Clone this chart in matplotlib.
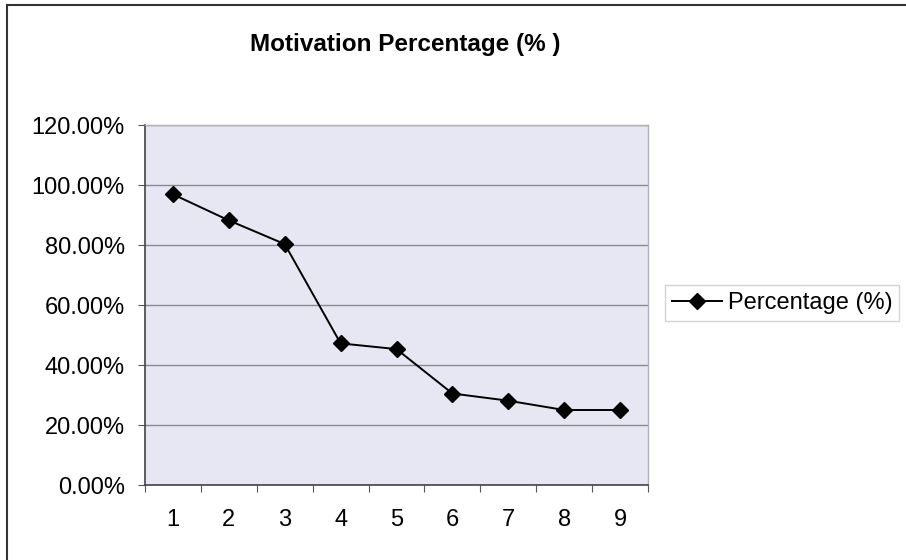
import numpy as np
import matplotlib
matplotlib.use("Agg")
import matplotlib.pyplot as plt
from matplotlib.lines import Line2D
from matplotlib.ticker import FuncFormatter

# --- Data ---
items = [1, 2, 3, 4, 5, 6, 7, 8, 9]
percentage = [96.9, 88.2, 80.3, 47.2, 45.3, 30.5, 28.1, 25.0, 25.0]
series_name = "Percentage (%)"
title = "Motivation Percentage (% )"

plt.rcParams["font.family"] = ["Liberation Sans", "DejaVu Sans"]

fig = plt.figure(figsize=(9.06, 5.6), dpi=100)
ax = fig.add_axes([145 / 906, 1 - 485 / 560, (648 - 145) / 906, (485 - 125) / 560])

# plot area
ax.set_facecolor("#e6e7f2")
ax.set_xlim(0.5, 9.5)
ax.set_ylim(0, 120)
ax.set_yticks(np.arange(0, 121, 20))
ax.yaxis.set_major_formatter(FuncFormatter(lambda v, p: f"{v:.2f}%"))
ax.grid(axis="y", color="#8a8a8a", linewidth=1.0)
ax.set_axisbelow(True)

# category axis: labels centred, tick marks between categories
ax.set_xticks(np.arange(0.5, 9.6, 1.0))
ax.set_xticklabels([])
ax.set_xticks(items, minor=True)
ax.set_xticklabels([str(i) for i in items], minor=True)
ax.tick_params(axis="x", which="major", length=5, color="#555555", direction="out")
ax.tick_params(axis="x", which="minor", length=0, pad=17, labelsize=17)
ax.tick_params(axis="y", length=5, color="#555555", pad=9.5, labelsize=17)

for s in ["left", "bottom"]:
    ax.spines[s].set_color("#444444")
    ax.spines[s].set_linewidth(1.2)
for s in ["top", "right"]:
    ax.spines[s].set_color("#b0b0b8")
    ax.spines[s].set_linewidth(1.0)

ax.plot(items, percentage, color="black", linewidth=1.4, marker="D",
        markersize=8, markerfacecolor="black", markeredgecolor="black",
        label=series_name)

# legend
leg = fig.legend(handles=[Line2D([0], [0], color="black", linewidth=1.4, marker="D",
                                 markersize=8)],
                 labels=[series_name], loc="center left",
                 bbox_to_anchor=(665 / 906, 1 - 303 / 560), frameon=True,
                 fancybox=False, fontsize=17, handlelength=2.1,
                 handletextpad=0.25, borderpad=0.3, borderaxespad=0)
leg.get_frame().set_edgecolor("#c8c8c8")
leg.get_frame().set_linewidth(1.0)

# title
fig.text(405 / 906, 1 - 45 / 560, title, ha="center", va="center",
         fontsize=17.5, fontweight="bold")

# chart border (left and top visible)
fig.add_artist(Line2D([7 / 906, 7 / 906], [0, 1 - 5 / 560], color="#333333",
                      linewidth=1.5, transform=fig.transFigure))
fig.add_artist(Line2D([7 / 906, 1], [1 - 5 / 560, 1 - 5 / 560], color="#333333",
                      linewidth=1.5, transform=fig.transFigure))

fig.savefig("out.png", dpi=100)
